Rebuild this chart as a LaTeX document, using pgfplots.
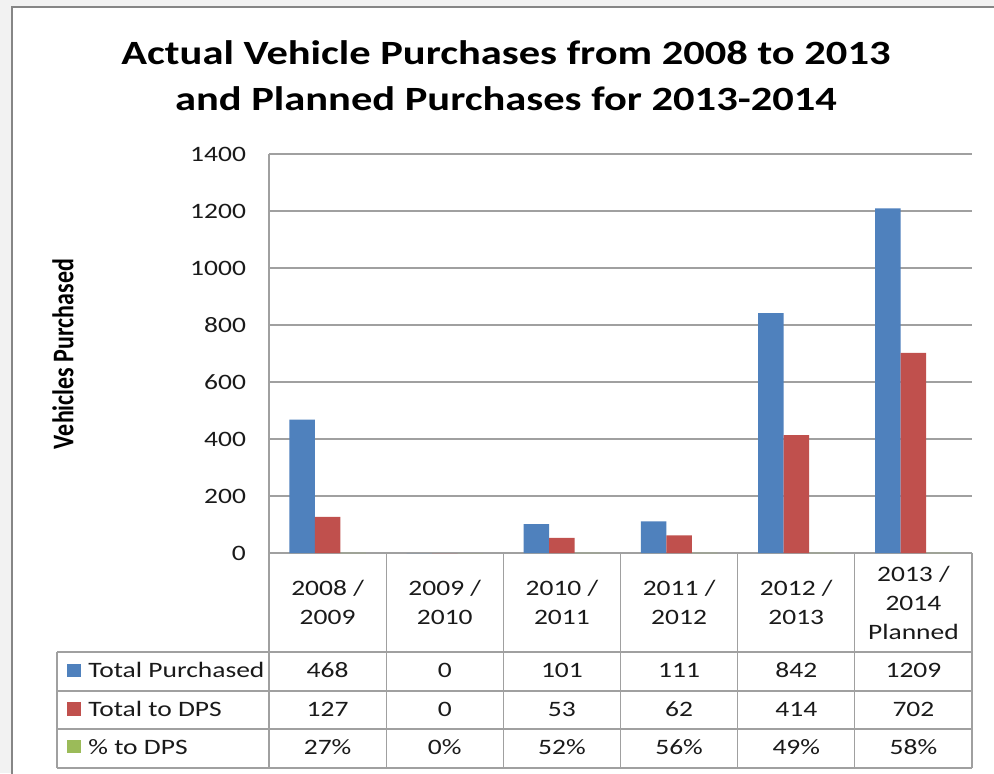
\documentclass[border=0pt]{standalone}
\usepackage{fontspec}
\setmainfont{Carlito}[FakeStretch=1.25]
\newfontfamily\plainfont{Carlito}
\usepackage{graphicx}
\usepackage{pgfplots}
\pgfplotsset{compat=1.18}
\usepackage{pgfplotstable}

\definecolor{xlblue}{HTML}{4F81BD}
\definecolor{xlred}{HTML}{C0504D}
\definecolor{xlgreen}{HTML}{9BBB59}
\definecolor{gridgray}{HTML}{A0A0A0}
\definecolor{framegray}{HTML}{868686}
\definecolor{bggray}{HTML}{F2F2F2}
\definecolor{txt}{HTML}{1A1A1A}

% pct in percent
\pgfplotstableread{
x total dps pct
0 468 127 27
1 0 0 0
2 101 53 52
3 111 62 56
4 842 414 49
5 1209 702 58
}\vehicles

\begin{document}
\begin{tikzpicture}
% 1 px of the reference = 0.5pt, y downwards
\begin{scope}[x=0.5pt,y=-0.5pt]
  \clip (0,0) rectangle (994,773);
  \fill[bggray] (0,0) rectangle (994,773);
  \draw[framegray, line width=1.2pt, fill=white] (12,7) rectangle (1100,900);
  \path[use as bounding box] (0,0) rectangle (994,773);

  \node[anchor=base, font=\fontsize{17}{23}\selectfont\bfseries, text=black]
    at (506,64) {Actual Vehicle Purchases from 2008 to 2013};
  \node[anchor=base, font=\fontsize{17}{23}\selectfont\bfseries, text=black]
    at (506,110) {and Planned Purchases for 2013-2014};

  \node[inner sep=0pt, text=black]
    at (63,354) {\rotatebox{90}{\scalebox{1}[1.25]{\plainfont\fontsize{12}{14}\selectfont\bfseries Vehicles Purchased}}};
\end{scope}

\begin{axis}[
  at={(134.5pt,-276.5pt)}, anchor=south west,
  scale only axis,
  width=351.5pt, height=199.5pt,
  ybar=0pt, bar width=12.75pt,
  xmin=-0.5, xmax=5.5,
  ymin=0, ymax=1400,
  ytick={0,200,...,1400},
  xtick=data,
  xticklabels={{2008 /\\2009},{2009 /\\2010},{2010 /\\2011},{2011 /\\2012},{2012 /\\2013},{2013 /\\2014\\Planned}},
  axis x line*=bottom, axis y line*=left,
  axis line style={gridgray, line width=0.6pt},
  ymajorgrids, grid style={gridgray, line width=0.6pt},
  major tick length=0pt,
  /pgf/number format/assume math mode=true,
  /pgf/number format/1000 sep={},
  yticklabel style={font=\fontsize{11}{13}\selectfont, text=txt, anchor=east, xshift=-8pt},
  xticklabel style={font=\fontsize{11}{14.5}\selectfont, text=txt, align=center, anchor=center, yshift=-24.75pt},
  clip=false,
]
  \addplot[fill=xlblue, draw=none] table[x=x, y=total] {\vehicles};
  \addplot[fill=xlred, draw=none] table[x=x, y=dps] {\vehicles};
  \addplot[fill=xlgreen, draw=none] table[x=x, y expr=\thisrow{pct}/100] {\vehicles};
\end{axis}

\begin{scope}[x=0.5pt,y=-0.5pt]
  % data table lines
  \foreach \k in {0,...,6} {
    \draw[gridgray, line width=0.6pt] ({269+117.17*\k},553) -- ({269+117.17*\k},768);
  }
  \foreach \yy in {652,691,729,768} {
    \draw[gridgray, line width=0.6pt] (57,\yy) -- (972,\yy);
  }
  \draw[gridgray, line width=0.6pt] (57,652) -- (57,768);

  % legend keys
  \fill[xlblue] (67,664) rectangle (81,677);
  \fill[xlred] (67,702) rectangle (81,716);
  \fill[xlgreen] (67,740) rectangle (81,753);
  \begin{scope}[every node/.style={anchor=base west, font=\fontsize{11}{13}\selectfont, text=txt, inner sep=0pt}]
    \node at (88,677) {Total Purchased};
    \node at (88,716) {Total to DPS};
    \node at (88,754) {\% to DPS};
  \end{scope}

  % values
  \foreach \i in {0,...,5} {
    \pgfplotstablegetelem{\i}{total}\of\vehicles
    \node[anchor=base, font=\fontsize{11}{13}\selectfont, text=txt, inner sep=0pt]
      at ({269+117.17*(\i+0.5)},677) {\pgfplotsretval};
    \pgfplotstablegetelem{\i}{dps}\of\vehicles
    \node[anchor=base, font=\fontsize{11}{13}\selectfont, text=txt, inner sep=0pt]
      at ({269+117.17*(\i+0.5)},716) {\pgfplotsretval};
    \pgfplotstablegetelem{\i}{pct}\of\vehicles
    \node[anchor=base, font=\fontsize{11}{13}\selectfont, text=txt, inner sep=0pt]
      at ({269+117.17*(\i+0.5)},754) {\pgfplotsretval\%};
  }
\end{scope}
\end{tikzpicture}
\end{document}
